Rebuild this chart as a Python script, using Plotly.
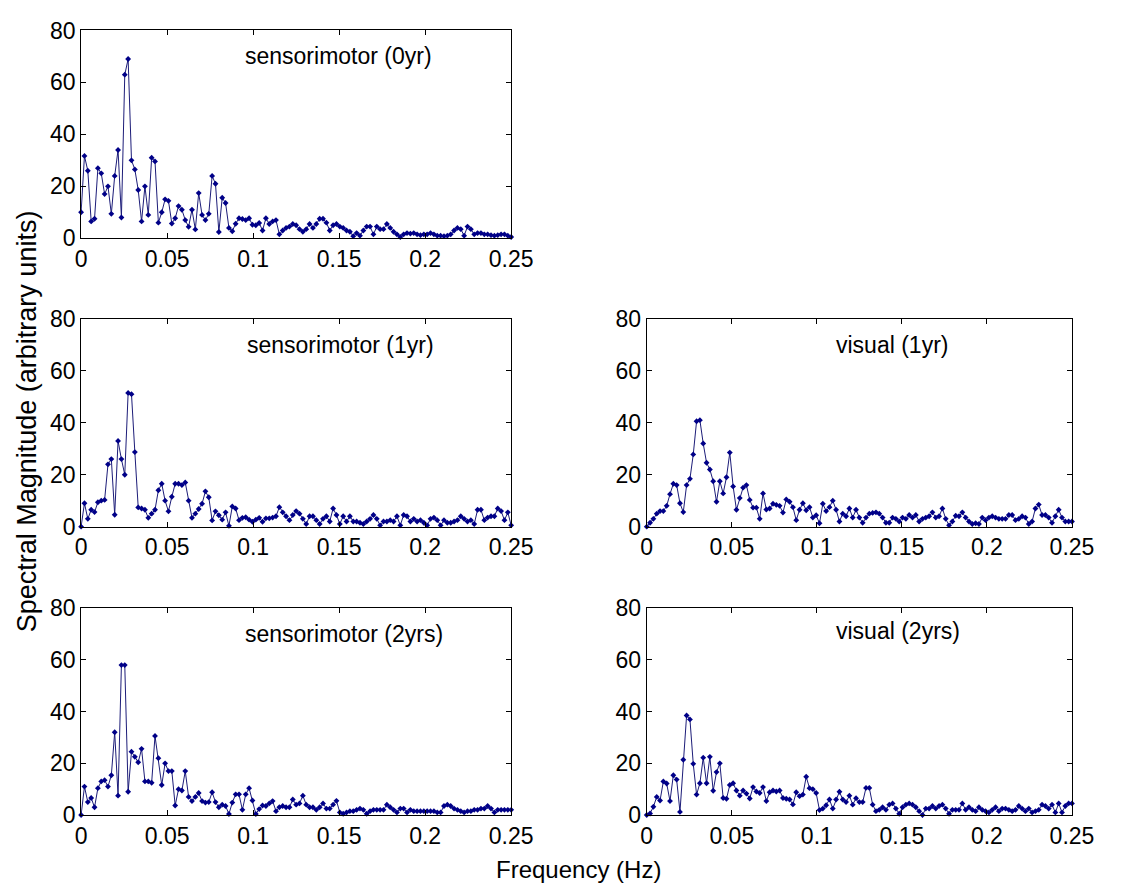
import plotly.graph_objects as go

N_BINS = 128
F_MAX = 0.25
freq = [k * F_MAX / N_BINS for k in range(N_BINS + 1)]

sensorimotor_0yr = [
    10, 31.7, 26, 6.5, 7.5, 27, 25, 17, 20, 9.4, 24, 34, 8, 63, 69, 30, 26.5, 18.6, 6.5, 20,
    9, 31, 29.6, 6, 10, 15, 14.4, 5.7, 7.7, 12.4, 11, 7, 4.4, 11, 3.4, 17.4, 9, 7, 9.4, 24,
    21, 2.4, 15.6, 13.6, 4, 2.7, 5.6, 7.7, 7.4, 7, 7.7, 5.2, 5, 5.9, 3, 7.7, 5.5, 6.5, 7, 1.5,
    3, 4, 4.5, 5.5, 5, 3.5, 2.5, 3.5, 5.5, 4, 5.5, 7.5, 7.5, 6, 3, 5, 5.5, 4.5, 4, 3,
    2.5, 0.8, 2, 1, 3, 4.5, 4.5, 1.5, 4.5, 3.5, 3.5, 5.5, 4, 2.5, 1.5, 0.5, 1.5, 2, 1.8, 2,
    1.5, 1.2, 1.5, 1.5, 2, 1.5, 1, 1, 0.8, 1, 1.5, 3, 4, 3.5, 1, 4.5, 3.5, 1.5, 2, 2,
    1.5, 1.5, 1.2, 1, 1.2, 1.5, 1.5, 1, 0.5,
]

sensorimotor_1yr = [
    0, 9, 3, 6.5, 5.6, 9.4, 10, 10.3, 24, 26, 4.6, 33, 26, 20, 51.5, 51, 28.7, 7.4, 7, 6.5,
    3.4, 5, 6.5, 14, 16.5, 10, 5.9, 11.5, 16.5, 16.5, 16, 17, 10, 3.4, 5, 6.8, 8.8, 13.6, 11.3, 2.4,
    5.9, 4.4, 2.7, 5.5, 0.3, 7.8, 7, 2.5, 3.4, 3.6, 2.7, 1.9, 2.7, 3.4, 1.9, 3.2, 3.2, 3.5, 4, 7.5,
    5.5, 4, 2.5, 4.5, 6, 5, 3, 1, 4, 4, 2.5, 1, 3, 4, 2, 7, 4.5, 1, 4, 2,
    4, 2, 2, 1.5, 1, 2, 3, 4.5, 3, 0.5, 2, 2, 2.5, 2, 4, 0.5, 4.5, 4, 2, 3,
    2, 2.5, 1.5, 0.5, 3, 3.5, 2.5, 0.5, 2.5, 1.5, 1.5, 2, 2.5, 4, 3, 2, 2.5, 1, 6.5, 6.5,
    2.5, 3.5, 4, 4, 7, 6, 2.5, 5.5, 0.5,
]

sensorimotor_2yrs = [
    0, 11, 5, 6.6, 3, 10.4, 13, 13.5, 11, 15.4, 32, 7.5, 58, 58, 9, 24.5, 22.5, 20.4, 25.6, 13,
    13, 12.5, 30.6, 22, 11.6, 20, 17, 17, 3.7, 10, 9.5, 17, 7, 5.4, 7, 8.5, 5.4, 4.8, 5, 8.8,
    5, 3, 4, 3.5, 0.4, 4.8, 8, 8, 2, 8, 10.4, 5.6, 0.4, 2.3, 3.7, 3.5, 4.5, 5.4, 1.5, 3,
    3.5, 3, 3, 6, 4, 4.5, 7.5, 4, 3, 3, 2, 3, 4.5, 2.5, 2.5, 4, 5.5, 1, 0.5, 1,
    1.5, 1.5, 2, 2.5, 2, 0.5, 1.5, 2, 2, 2, 2, 4, 3, 2, 1, 2.5, 2.5, 1, 2, 1.5,
    1.5, 1.5, 1.5, 1.5, 1.5, 1.5, 1, 1, 3.5, 4, 3.5, 2.5, 2, 1.5, 1, 1.5, 1.5, 2, 2, 2.5,
    2.5, 3.5, 2.5, 1, 2, 2, 2, 2, 2,
]

visual_1yr = [
    0, 1.5, 3, 5, 6, 6, 8, 12.5, 16.5, 16, 9, 5.6, 16, 18.4, 27.8, 40.6, 41, 32, 24.6, 22,
    17.5, 9.6, 17.5, 12.8, 19, 28.5, 15.5, 6.5, 11, 15, 16, 10.3, 7.3, 7.3, 3, 12.8, 6.6, 7, 8.8, 8.4,
    8, 5.4, 10.5, 9.6, 7.5, 2.5, 6.5, 9, 6.3, 7.5, 3.5, 4.4, 1.3, 8.8, 6, 7.5, 10, 6.5, 2, 5,
    4, 7, 3.5, 6.5, 3.5, 1.5, 3.5, 5, 5.3, 5.5, 5, 3.5, 1.5, 1.5, 3.5, 3, 2, 3.5, 3, 4.5,
    3.5, 4.5, 2, 3, 3.5, 4, 5.5, 3.5, 4, 7, 3, 0.5, 2, 4.2, 4, 5.5, 3.5, 2, 1, 1.3,
    1, 3.5, 2.5, 3.5, 4, 3.5, 3, 3, 3, 4.5, 4.5, 2.5, 3, 4, 3.5, 1, 2, 7, 8.5, 4.5,
    4.5, 3.5, 1.5, 4, 6.5, 3.5, 2, 2, 2,
]

visual_2yrs = [
    0, 0.6, 3.2, 7, 5.6, 13, 12.2, 5.4, 15.4, 13.7, 1.2, 21.4, 38.5, 37, 19.8, 7.9, 12.3, 22.2, 12.3, 22.5,
    9.4, 16.6, 20, 6.6, 6.3, 11.6, 12.3, 9.5, 7.5, 9.5, 8.3, 6.4, 10.8, 9.1, 8.5, 10.8, 5.4, 8.8, 9.5, 9.1,
    9.5, 6.6, 6.3, 6, 4.1, 8.8, 7.3, 7.9, 14.8, 10.4, 10, 8.5, 1.9, 2.5, 3.8, 6, 2.5, 6, 9, 6,
    5, 7.5, 4, 6.5, 5, 5, 10.5, 10.5, 4, 1.5, 2, 3, 2, 4, 4.5, 2.5, 0.5, 3, 4, 4.5,
    4, 3, 1.5, 0, 2.5, 2.5, 3.5, 2.5, 3.5, 4, 2.5, 0.5, 2, 2, 2, 4.5, 2, 3, 2, 1.5,
    3, 2, 1.5, 1, 2, 3, 1.5, 2.5, 2.5, 2, 1.5, 2, 3.5, 2.5, 1.5, 2.5, 1, 1.5, 2, 4,
    3.5, 2.5, 4, 1, 4.5, 1, 3.5, 4.5, 4.5,
]

panel_titles = ["sensorimotor (0yr)", "sensorimotor (1yr)", "sensorimotor (2yrs)",
                "visual (1yr)", "visual (2yrs)"]
title_x = [0.094, 0.095, 0.094, 0.11, 0.11]
title_y = [70, 70, 70, 70, 71]
series = [sensorimotor_0yr, sensorimotor_1yr, sensorimotor_2yrs, visual_1yr, visual_2yrs]

x_tickvals = [0, 0.05, 0.1, 0.15, 0.2, 0.25]
x_ticktext = ["0", "0.05", "0.1", "0.15", "0.2", "0.25"]
y_tickvals = [0, 20, 40, 60, 80]

W, H = 1132, 896
col_dom = {"L": [77 / W, 518 / W], "R": [657 / W, 1093 / W]}
row_dom = {1: [1 - 232 / H, 1 - 18 / H], 2: [1 - 529 / H, 1 - 315 / H], 3: [1 - 826 / H, 1 - 613 / H]}
positions = [("L", 1), ("L", 2), ("L", 3), ("R", 2), ("R", 3)]

FONT = "Liberation Sans, Arial, sans-serif"
LINE_COLOR = "#1c1c78"
MARK_COLOR = "#000088"

fig = go.Figure()
layout = dict(
    width=W, height=H, margin=dict(l=0, r=0, t=0, b=0),
    paper_bgcolor="white", plot_bgcolor="white", showlegend=False,
    font=dict(family=FONT, size=23, color="black"),
)
annotations = []
for i, (ys, (c, r)) in enumerate(zip(series, positions)):
    n = i + 1
    xa = "x" if n == 1 else f"x{n}"
    ya = "y" if n == 1 else f"y{n}"
    fig.add_trace(go.Scatter(
        x=freq, y=ys, mode="lines+markers", xaxis=xa, yaxis=ya,
        line=dict(color=LINE_COLOR, width=1),
        marker=dict(color=MARK_COLOR, size=4.5, symbol="diamond"),
        cliponaxis=False,
    ))
    common = dict(showline=True, linecolor="black", linewidth=1, mirror="ticks",
                  ticks="inside", ticklen=5, tickcolor="black", showgrid=False,
                  zeroline=False, tickfont=dict(family=FONT, size=23, color="black"))
    layout["xaxis" if n == 1 else f"xaxis{n}"] = dict(
        domain=col_dom[c], anchor=ya, range=[0, 0.25],
        tickvals=x_tickvals, ticktext=x_ticktext, **common)
    layout["yaxis" if n == 1 else f"yaxis{n}"] = dict(
        domain=row_dom[r], anchor=xa, range=[0, 80],
        tickvals=y_tickvals, **common)
    annotations.append(dict(
        x=title_x[i], y=title_y[i], xref=xa, yref=ya, text=panel_titles[i],
        showarrow=False, xanchor="left", yanchor="middle",
        font=dict(family=FONT, size=23, color="black")))

annotations.append(dict(
    x=21 / W, y=1 - 420 / H, xref="paper", yref="paper",
    text="Spectral Magnitude (arbitrary units)", textangle=-90, showarrow=False,
    xanchor="center", yanchor="middle", font=dict(family=FONT, size=27, color="black")))
annotations.append(dict(
    x=587 / W, y=1 - 882 / H, xref="paper", yref="paper",
    text="Frequency (Hz)", showarrow=False,
    xanchor="center", yanchor="middle", font=dict(family=FONT, size=24, color="black")))
layout["annotations"] = annotations
fig.update_layout(**layout)
fig.write_html("out.html")
